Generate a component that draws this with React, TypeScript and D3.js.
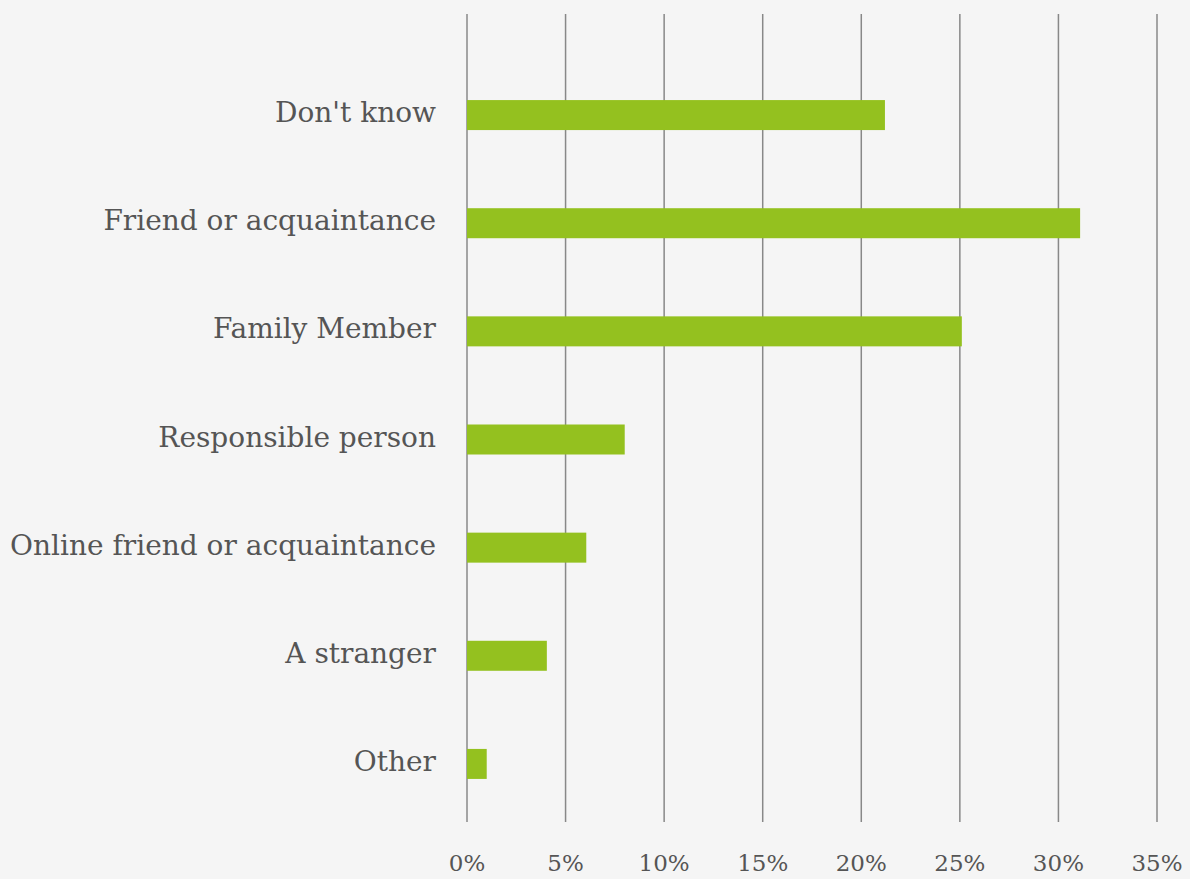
import React from "react";
import * as d3 from "d3";

const categories = [
  "Don't know",
  "Friend or acquaintance",
  "Family Member",
  "Responsible person",
  "Online friend or acquaintance",
  "A stranger",
  "Other",
];
const values = [21.2, 31.1, 25.1, 8.0, 6.05, 4.05, 1.0];
const tickValues = [0, 5, 10, 15, 20, 25, 30, 35];

const W = 1190;
const H = 879;

export default function App() {
  const x = d3.scaleLinear().domain([0, 35]).range([467, 1157]);
  const y = d3.scaleBand().domain(categories).range([61, 818]).paddingInner(0.72).paddingOuter(0.36);
  const bh = 30;
  const font = "'DejaVu Serif', serif";
  return (
    <svg width={W} height={H} style={{ position: "absolute", left: 0, top: 0, background: "#f5f5f5" }}>
      <rect x={0} y={0} width={W} height={H} fill="#f5f5f5" />
      {tickValues.map((t) => (
        <line key={t} x1={x(t)} x2={x(t)} y1={14} y2={822} stroke="#888" strokeWidth={1.5} />
      ))}
      {categories.map((c, i) => {
        const cy = (y(c) as number) + y.bandwidth() / 2;
        return (
          <g key={c}>
            <rect x={x(0)} y={cy - bh / 2} width={x(values[i]) - x(0)} height={bh} fill="#94c11f" />
            <text x={436} y={cy + 7} textAnchor="end" fontFamily={font} fontSize={28} fill="#555">
              {c}
            </text>
          </g>
        );
      })}
      {tickValues.map((t) => (
        <text key={"l" + t} x={x(t)} y={871} textAnchor="middle" fontFamily={font} fontSize={23} fill="#555">
          {t + "%"}
        </text>
      ))}
    </svg>
  );
}
